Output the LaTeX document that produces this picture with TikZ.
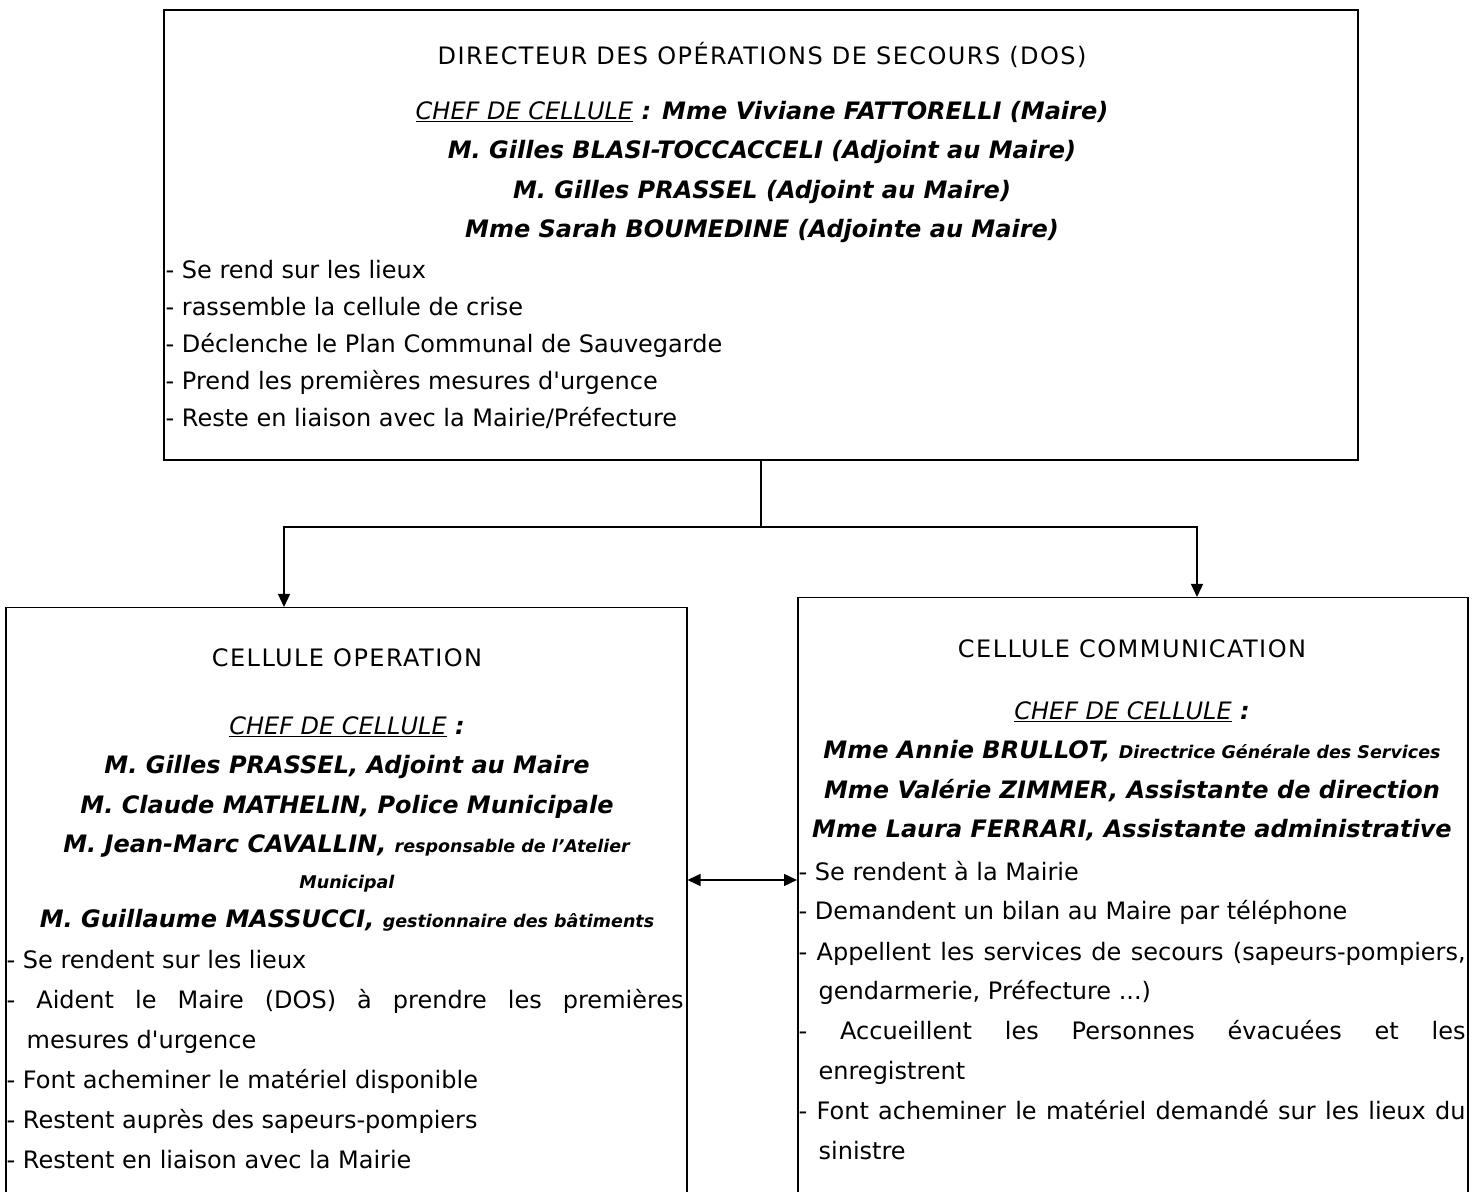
\documentclass[tikz,border=0pt]{standalone}
\usepackage{fontspec}
\setmainfont{DejaVu Sans}
\usetikzlibrary{arrows.meta,calc}

\newcommand{\chefcell}{\underline{\textit{CHEF DE CELLULE}}}
\newcommand{\nom}[1]{\textbf{\textit{#1}}}
\newcommand{\petit}[1]{{\fontsize{17.5}{39}\selectfont #1}}
\newcommand{\titre}[1]{{\addfontfeatures{LetterSpace=6}#1}}
\newcommand{\apos}{\textquotesingle}

\begin{document}
\begin{tikzpicture}[x=1pt,y=1pt,>={Triangle[length=13pt,width=12pt]},line width=1.3pt,
    cell/.style={draw,line width=1.5pt,inner sep=0pt},
    head/.style={align=center,inner sep=0pt,anchor=base,font=\fontsize{24}{39.5}\selectfont},
    list/.style={align=left,inner sep=0pt,anchor=base west,font=\fontsize{24}{40}\selectfont}]
    \clip (0,0) rectangle (1480,1191);
    \fill[white] (0,0) rectangle (1480,1191);

    % les trois cellules
    \node[cell,minimum width=1194,minimum height=450] (dos) at (761,956) {};
    \node[cell,minimum width=681,minimum height=620,anchor=north west] (ops) at (5,584) {};
    \node[cell,minimum width=670,minimum height=620,anchor=north west] (com) at (797,594) {};

    % DOS (ancre = ligne de base de la derniere ligne)
    \node[head] (doshead) at (762,953) {\titre{DIRECTEUR DES OPÉRATIONS DE SECOURS (DOS)}\\[15pt]
        \chefcell\nom{ : Mme Viviane FATTORELLI (Maire)}\\
        \nom{M. Gilles BLASI-TOCCACCELI (Adjoint au Maire)}\\
        \nom{M. Gilles PRASSEL (Adjoint au Maire)}\\
        \nom{Mme Sarah BOUMEDINE (Adjointe au Maire)}};
    \node[list,font=\fontsize{24}{37}\selectfont] (doslist) at (165,764) {- Se rend sur les lieux\\
        - rassemble la cellule de crise\\
        - Déclenche le Plan Communal de Sauvegarde\\
        - Prend les premières mesures d\apos urgence\\
        - Reste en liaison avec la Mairie/Préfecture};

    % cellule operation
    \node[head] (opshead) at (347,263) {\titre{CELLULE OPERATION}\\[28pt]
        \chefcell\nom{ :}\\
        \nom{M. Gilles PRASSEL, Adjoint au Maire}\\
        \nom{M. Claude MATHELIN, Police Municipale}\\
        \nom{M. Jean-Marc CAVALLIN, \petit{responsable de l'Atelier}}\\[-4pt]
        \nom{\petit{Municipal}}\\
        \nom{M. Guillaume MASSUCCI, \petit{gestionnaire des bâtiments}}};
    \node[list] (opslist) at (6,23) {- Se rendent sur les lieux\\
        \makebox[677pt][s]{- Aident le Maire (DOS) à prendre les premières}\\
        \hspace*{20pt}mesures d\apos urgence\\
        - Font acheminer le matériel disponible\\
        - Restent auprès des sapeurs-pompiers\\
        - Restent en liaison avec la Mairie};

    % cellule communication
    \node[head] (comhead) at (1132,353) {\titre{CELLULE COMMUNICATION}\\[22pt]
        \chefcell\nom{ :}\\
        \nom{Mme Annie BRULLOT, \petit{Directrice Générale des Services}}\\
        \nom{Mme Valérie ZIMMER, Assistante de direction}\\
        \nom{Mme Laura FERRARI, Assistante administrative}};
    \node[list] (comlist) at (798,31) {- Se rendent à la Mairie\\
        - Demandent un bilan au Maire par téléphone\\
        \makebox[667pt][s]{- Appellent les services de secours (sapeurs-pompiers,}\\
        \hspace*{20pt}gendarmerie, Préfecture ...)\\
        \makebox[667pt][s]{- Accueillent les Personnes évacuées et les}\\
        \hspace*{20pt}enregistrent\\
        \makebox[667pt][s]{- Font acheminer le matériel demandé sur les lieux du}\\
        \hspace*{20pt}sinistre};

    % liaisons
    \coordinate (fork) at (dos.south |- 0,664);
    \draw (dos.south) -- (fork);
    \draw[->] (fork) -| ($(ops.north west)+(279,0)$);
    \draw[->] (fork) -| ($(com.north west)+(400,0)$);
    \draw[<->] ($(ops.north east)+(0,-273)$) -- ($(com.north west)+(0,-283)$);
\end{tikzpicture}
\end{document}
